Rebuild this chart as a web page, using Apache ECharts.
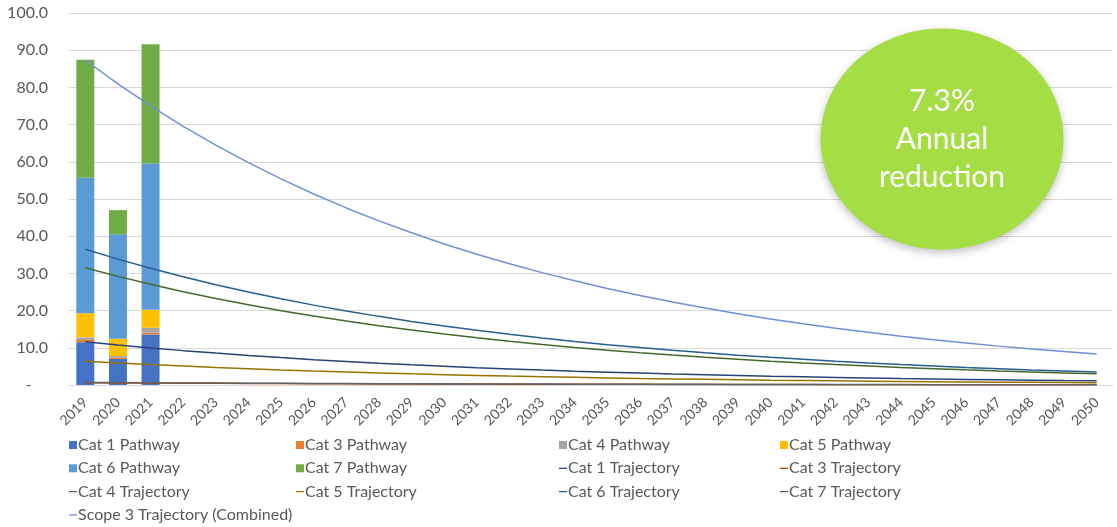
<!DOCTYPE html>
<html><head><meta charset="utf-8">
<script src="https://cdn.jsdelivr.net/npm/echarts@6/dist/echarts.min.js"></script>
<style>html,body{margin:0;padding:0;background:#fff}#c{width:1117px;height:527px}</style>
</head><body><div id="c"></div>
<script>
const years = ['2019','2020','2021','2022','2023','2024','2025','2026','2027','2028','2029','2030','2031','2032','2033','2034','2035','2036','2037','2038','2039','2040','2041','2042','2043','2044','2045','2046','2047','2048','2049','2050'];
const yTicks = [0,10,20,30,40,50,60,70,80,90,100];

const cat1Pathway = [11.5, 7.0, 13.6];
const cat3Pathway = [0.6, 0.4, 0.5];
const cat4Pathway = [0.7, 0.4, 1.3];
const cat5Pathway = [6.5, 4.6, 4.8];
const cat6Pathway = [36.4, 28.1, 39.4];
const cat7Pathway = [31.7, 6.5, 32.0];

const cat1Trajectory = [11.6,10.75,9.97,9.24,8.57,7.94,7.36,6.82,6.33,5.86,5.44,5.04,4.67,4.33,4.01,3.72,3.45,3.20,2.96,2.75,2.55,2.36,2.19,2.03,1.88,1.74,1.62,1.50,1.39,1.29,1.19,1.11];
const cat3Trajectory = [0.6,0.56,0.52,0.48,0.44,0.41,0.38,0.35,0.33,0.30,0.28,0.26,0.24,0.22,0.21,0.19,0.18,0.17,0.15,0.14,0.13,0.12,0.11,0.10,0.10,0.09,0.08,0.08,0.07,0.07,0.06,0.06];
const cat4Trajectory = [0.7,0.65,0.60,0.56,0.52,0.48,0.44,0.41,0.38,0.35,0.33,0.30,0.28,0.26,0.24,0.22,0.21,0.19,0.18,0.17,0.15,0.14,0.13,0.12,0.11,0.11,0.10,0.09,0.08,0.08,0.07,0.07];
const cat5Trajectory = [6.4,5.93,5.50,5.10,4.73,4.38,4.06,3.76,3.49,3.24,3.00,2.78,2.58,2.39,2.21,2.05,1.90,1.76,1.64,1.52,1.41,1.30,1.21,1.12,1.04,0.96,0.89,0.83,0.77,0.71,0.66,0.61];
const cat6Trajectory = [36.5,33.84,31.37,29.08,26.95,24.99,23.16,21.47,19.90,18.45,17.10,15.86,14.70,13.62,12.63,11.71,10.85,10.06,9.33,8.65,8.01,7.43,6.89,6.38,5.92,5.49,5.09,4.71,4.37,4.05,3.76,3.48];
const cat7Trajectory = [31.5,29.20,27.07,25.09,23.26,21.56,19.99,18.53,17.18,15.92,14.76,13.68,12.68,11.76,10.90,10.10,9.37,8.68,8.05,7.46,6.92,6.41,5.94,5.51,5.11,4.73,4.39,4.07,3.77,3.50,3.24,3.00];
const scope3Trajectory = [87.3,80.93,75.02,69.54,64.47,59.76,55.40,51.35,47.60,44.13,40.91,37.92,35.15,32.59,30.21,28.00,25.96,24.06,22.31,20.68,19.17,17.77,16.47,15.27,14.16,13.12,12.16,11.28,10.45,9.69,8.98,8.33];

const badgeLines = ['7.3%', 'Annual', 'reduction'];

const FONT = 'Lato';
const TXT = '#595959';
const LINE_ICON = 'path://M0,0 H10 V1.6 H0 Z';

function bar(name, data, color) {
  return {name, type:'bar', stack:'p', data, barWidth:18, itemStyle:{color}, emphasis:{disabled:true}};
}
function line(name, data, color, w) {
  return {name, type:'line', data, symbol:'none', smooth:false, lineStyle:{color, width:w||1.5}, itemStyle:{color}, emphasis:{disabled:true}, z:3};
}
function legendCol(left, items) {
  return {
    orient:'vertical', left, top:430, height:110, itemWidth:8, itemHeight:8, itemGap:3.3,
    textStyle:{color:TXT, fontFamily:FONT, fontSize:16, lineHeight:20, padding:[0,0,0,-4]},
    data: items.map(n => n.indexOf('Pathway')>=0 ? {name:n, icon:'rect'} : {name:n, icon:LINE_ICON}),
    selectedMode:false
  };
}

const chart = echarts.init(document.getElementById('c'), null, {renderer:'canvas'});
chart.setOption({
  animation:false,
  textStyle:{fontFamily:FONT},
  grid:{left:69, right:4, top:13, bottom:142, containLabel:false},
  xAxis:{
    type:'category', data:years, boundaryGap:true,
    axisLine:{lineStyle:{color:'#D9D9D9'}}, axisTick:{show:false},
    axisLabel:{rotate:45, color:TXT, fontFamily:FONT, fontSize:14, margin:15, interval:0}
  },
  yAxis:{
    type:'value', min:yTicks[0], max:yTicks[yTicks.length-1], interval:10,
    axisLine:{show:false}, axisTick:{show:false},
    splitLine:{lineStyle:{color:'#D9D9D9', width:1}},
    axisLabel:{color:TXT, fontFamily:FONT, fontSize:16, margin:21,
      formatter:v => v===0 ? '-    ' : v.toFixed(1)}
  },
  legend:[
    legendCol(64, ['Cat 1 Pathway','Cat 6 Pathway','Cat 4 Trajectory','Scope 3 Trajectory (Combined)']),
    legendCol(291, ['Cat 3 Pathway','Cat 7 Pathway','Cat 5 Trajectory']),
    legendCol(554, ['Cat 4 Pathway','Cat 1 Trajectory','Cat 6 Trajectory']),
    legendCol(775, ['Cat 5 Pathway','Cat 3 Trajectory','Cat 7 Trajectory'])
  ],
  graphic:[
    {type:'circle', x:942, y:139, scaleX:1.1, shape:{cx:0, cy:0, r:110.5}, z:100,
      style:{fill:'#A4DD44', shadowBlur:8, shadowOffsetY:3, shadowColor:'rgba(0,0,0,0.25)'}},
    {type:'text', x:942, y:139, z:101,
      style:{text:badgeLines.join('\n'), fill:'#ffffff', font:'30px Lato', lineHeight:38, align:'center', verticalAlign:'middle'}}
  ],
  series:[
    bar('Cat 1 Pathway', cat1Pathway, '#4472C4'),
    bar('Cat 3 Pathway', cat3Pathway, '#ED7D31'),
    bar('Cat 4 Pathway', cat4Pathway, '#A5A5A5'),
    bar('Cat 5 Pathway', cat5Pathway, '#FFC000'),
    bar('Cat 6 Pathway', cat6Pathway, '#5B9BD5'),
    bar('Cat 7 Pathway', cat7Pathway, '#70AD47'),
    line('Cat 1 Trajectory', cat1Trajectory, '#264478'),
    line('Cat 3 Trajectory', cat3Trajectory, '#9E480E'),
    line('Cat 4 Trajectory', cat4Trajectory, '#636363'),
    line('Cat 5 Trajectory', cat5Trajectory, '#997300'),
    line('Cat 6 Trajectory', cat6Trajectory, '#255E91'),
    line('Cat 7 Trajectory', cat7Trajectory, '#43682B'),
    line('Scope 3 Trajectory (Combined)', scope3Trajectory, '#6F8FD8')
  ]
});
</script></body></html>
